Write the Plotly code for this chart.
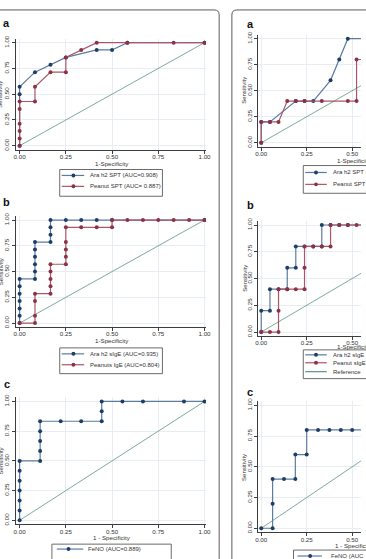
import plotly.graph_objects as go

W, H = 366, 559

# ---------------- data ----------------
TICK_VALS = [0, 0.25, 0.5, 0.75, 1.0]
TICK_TEXT = ["0.00", "0.25", "0.50", "0.75", "1.00"]
REF_X = [0, 1]
REF_Y = [0, 1]

# Left panel a
la_ara_x = [0, 0, 0, 0.083, 0.167, 0.25, 0.417, 0.5, 0.583, 1.0]
la_ara_y = [0, 0.5, 0.571, 0.714, 0.786, 0.857, 0.929, 0.929, 1.0, 1.0]
la_pea_x = [0, 0, 0, 0, 0, 0, 0.083, 0.083, 0.167, 0.25, 0.25, 0.333, 0.417, 0.583, 0.833, 1.0]
la_pea_y = [0, 0.071, 0.143, 0.214, 0.357, 0.429, 0.429, 0.571, 0.714, 0.714, 0.857, 0.929, 1.0, 1.0, 1.0, 1.0]
la_labels = ["Ara h2 SPT (AUC=0.908)", "Peanut SPT (AUC= 0.887)"]

# Left panel b
lb_ara_x = [0, 0, 0, 0, 0, 0, 0, 0.083, 0.083, 0.083, 0.083, 0.083, 0.083,
            0.167, 0.167, 0.167, 0.167, 0.25, 0.333, 0.417, 0.5, 1.0]
lb_ara_y = [0, 0.071, 0.143, 0.214, 0.286, 0.357, 0.429, 0.429, 0.5, 0.571, 0.643, 0.714, 0.786,
            0.786, 0.857, 0.929, 1.0, 1.0, 1.0, 1.0, 1.0, 1.0]
lb_pea_x = [0, 0.083, 0.083, 0.083, 0.083, 0.167, 0.167, 0.167, 0.167, 0.167,
            0.25, 0.25, 0.25, 0.25, 0.25, 0.333, 0.417, 0.5, 0.5,
            0.583, 0.667, 0.75, 0.833, 0.917, 1.0]
lb_pea_y = [0, 0, 0.071, 0.214, 0.286, 0.286, 0.357, 0.429, 0.5, 0.571,
            0.571, 0.643, 0.714, 0.786, 0.929, 0.929, 0.929, 0.929, 1.0,
            1.0, 1.0, 1.0, 1.0, 1.0, 1.0]
lb_labels = ["Ara h2 sIgE (AUC=0.935)", "Peanuts IgE (AUC=0.804)"]

# Left panel c
lc_feno_x = [0, 0, 0, 0, 0, 0, 0, 0.111, 0.111, 0.111, 0.111, 0.111,
             0.222, 0.333, 0.444, 0.444, 0.444, 0.556, 0.667, 0.889, 1.0]
lc_feno_y = [0, 0.083, 0.167, 0.25, 0.333, 0.417, 0.5, 0.5, 0.583, 0.667, 0.75, 0.833,
             0.833, 0.833, 0.833, 0.917, 1.0, 1.0, 1.0, 1.0, 1.0]
lc_labels = ["FeNO (AUC=0.889)"]

# Right panel a
ra_ara_x = [0, 0, 0.048, 0.19, 0.238, 0.286, 0.381, 0.429, 0.476, 1.0]
ra_ara_y = [0, 0.2, 0.2, 0.4, 0.4, 0.4, 0.6, 0.8, 1.0, 1.0]
ra_pea_x = [0, 0, 0.048, 0.095, 0.143, 0.19, 0.238, 0.333, 0.476, 0.524, 0.524, 0.571, 1.0]
ra_pea_y = [0, 0.2, 0.2, 0.2, 0.4, 0.4, 0.4, 0.4, 0.4, 0.4, 0.8, 0.8, 1.0]
ra_labels = ["Ara h2 SPT (AUC", "Peanut SPT (AUC"]

# Right panel b
rb_ara_x = [0, 0, 0.048, 0.048, 0.095, 0.143, 0.143, 0.19, 0.19, 0.238, 0.286, 0.333, 0.333,
            0.381, 0.429, 0.476, 1.0]
rb_ara_y = [0, 0.2, 0.2, 0.4, 0.4, 0.4, 0.6, 0.6, 0.8, 0.8, 0.8, 0.8, 1.0,
            1.0, 1.0, 1.0, 1.0]
rb_pea_x = [0, 0.048, 0.095, 0.095, 0.095, 0.143, 0.19, 0.238, 0.238, 0.238, 0.286, 0.333,
            0.381, 0.381, 0.429, 0.476, 0.524, 1.0]
rb_pea_y = [0, 0, 0, 0.2, 0.4, 0.4, 0.4, 0.4, 0.6, 0.8, 0.8, 0.8,
            0.8, 1.0, 1.0, 1.0, 1.0, 1.0]
rb_labels = ["Ara h2 sIgE (AUC", "Peanut sIgE (AUC", "Reference"]

# Right panel c
rc_feno_x = [0, 0.0625, 0.0625, 0.0625, 0.125, 0.1875, 0.1875, 0.25, 0.25,
             0.3125, 0.375, 0.4375, 0.5, 0.5625, 1.0]
rc_feno_y = [0, 0, 0.2, 0.4, 0.4, 0.4, 0.6, 0.6, 0.8, 0.8, 0.8, 0.8, 0.8, 0.8, 1.0]
rc_labels = ["FeNO (AUC"]

PANEL_LETTERS = ["a", "b", "c", "a", "b", "c"]
X_TITLES = ["1-Specificity", "1-Specificity", "1 - Specificity",
            "1-Specificity", "1-Specificity", "1 - Specificity"]
Y_TITLE = "Sensitivity"

# ---------------- style ----------------
BLUE_M = "#1d3e66"
BLUE_L = "#5a7ca0"
RED_M = "#8c3146"
RED_L = "#a85769"
REF_C = "#5a9483"
AXIS_C = "#3d3d3d"
GRID_C = "#e7edf2"
TXT_C = "#333333"
FRAME_C = "#5a5a5a"
FONT = "Liberation Sans, Arial, Helvetica, sans-serif"


def fx(p):
    return p / W


def fy(p):
    return 1 - p / H


# pixel geometry of each panel: data-0 x, px per unit x, axis x, right end,
# data-0 y, px per unit y, axis y (bottom), top
panels = [
    dict(x0=17, xu=189, xl=13, xr=207.5, y0=143, yu=104, yb=147, yt=35),
    dict(x0=17, xu=189, xl=13, xr=207.5, y0=322, yu=104, yb=326, yt=214),
    dict(x0=17, xu=189, xl=13, xr=207.5, y0=521, yu=120, yb=525, yt=397),
    dict(x0=264, xu=186, xl=261, xr=366, y0=140, yu=105, yb=144, yt=31),
    dict(x0=264, xu=186, xl=261, xr=366, y0=331, yu=108, yb=335, yt=219),
    dict(x0=264, xu=186, xl=261, xr=366, y0=529, yu=124, yb=533, yt=401),
]

series = [
    [(la_ara_x, la_ara_y, BLUE_L, BLUE_M), (la_pea_x, la_pea_y, RED_L, RED_M)],
    [(lb_ara_x, lb_ara_y, BLUE_L, BLUE_M), (lb_pea_x, lb_pea_y, RED_L, RED_M)],
    [(lc_feno_x, lc_feno_y, BLUE_L, BLUE_M)],
    [(ra_ara_x, ra_ara_y, BLUE_L, BLUE_M), (ra_pea_x, ra_pea_y, RED_L, RED_M)],
    [(rb_ara_x, rb_ara_y, BLUE_L, BLUE_M), (rb_pea_x, rb_pea_y, RED_L, RED_M)],
    [(rc_feno_x, rc_feno_y, BLUE_L, BLUE_M)],
]

fig = go.Figure()
layout = dict(
    width=W, height=H, autosize=False,
    margin=dict(l=0, r=0, t=0, b=0, pad=0),
    paper_bgcolor="white", plot_bgcolor="white",
    showlegend=False, font=dict(family=FONT, color=TXT_C, size=6.2),
)

annotations = []
shapes = []

for i, (g, sers) in enumerate(zip(panels, series), start=1):
    xs = "x" if i == 1 else f"x{i}"
    ys = "y" if i == 1 else f"y{i}"
    xa = "xaxis" if i == 1 else f"xaxis{i}"
    ya = "yaxis" if i == 1 else f"yaxis{i}"
    common = dict(
        tickvals=TICK_VALS, ticktext=TICK_TEXT, ticks="outside", ticklen=3,
        tickwidth=0.8, tickcolor=AXIS_C, showline=True, linecolor=AXIS_C,
        linewidth=0.9, showgrid=True, gridcolor=GRID_C, gridwidth=0.8,
        zeroline=False, tickfont=dict(size=6.2, color=TXT_C, family=FONT),
        fixedrange=True,
    )
    layout[xa] = dict(
        domain=[fx(g["xl"]), min(1.0, fx(g["xr"]))],
        range=[(g["xl"] - g["x0"]) / g["xu"], (g["xr"] - g["x0"]) / g["xu"]],
        anchor=ys, ticklabelstandoff=-2, **common)
    layout[ya] = dict(
        domain=[fy(g["yb"]), fy(g["yt"])],
        range=[(g["y0"] - g["yb"]) / g["yu"], (g["y0"] - g["yt"]) / g["yu"]],
        anchor=xs, tickangle=-90, **common)

    fig.add_trace(go.Scatter(x=REF_X, y=REF_Y, mode="lines", xaxis=xs, yaxis=ys,
                             line=dict(color=REF_C, width=0.8), hoverinfo="skip"))
    for sx, sy, lc, mc in sers:
        fig.add_trace(go.Scatter(x=sx, y=sy, mode="lines+markers", xaxis=xs, yaxis=ys,
                                 line=dict(color=lc, width=1.2),
                                 marker=dict(color=mc, size=4, line=dict(width=0)),
                                 hoverinfo="skip"))

    # panel letter
    lx = 4 if i <= 3 else 253
    ly = [19, 200, 383, 20, 203, 391][i - 1]
    annotations.append(dict(text="<b>%s</b>" % PANEL_LETTERS[i - 1], x=fx(lx), y=fy(ly),
                            xref="paper", yref="paper", showarrow=False,
                            xanchor="center", yanchor="middle",
                            font=dict(size=11, color="#111111", family=FONT)))
    # x title
    xt_x = g["x0"] + 0.5 * g["xu"]
    xt_y = [160.5, 339.5, 538.5, 157.5, 345.5, 546][i - 1]
    annotations.append(dict(text=X_TITLES[i - 1], x=fx(xt_x + (2 if i > 3 else 0)), y=fy(xt_y),
                            xref="paper", yref="paper", showarrow=False,
                            xanchor="center", yanchor="middle",
                            font=dict(size=6.2, color=TXT_C, family=FONT)))
    # y title
    yt_x = -2.5 if i <= 3 else 246.5
    yt_y = [91, 270, 461, 87.5, 277, 468][i - 1]
    annotations.append(dict(text=Y_TITLE, x=fx(yt_x), y=fy(yt_y), textangle=-90,
                            xref="paper", yref="paper", showarrow=False,
                            xanchor="center", yanchor="middle",
                            font=dict(size=6, color=TXT_C, family=FONT)))

# ---------------- legends (boxes with keys) ----------------
legends = [
    dict(box=(58, 167, 163, 194), line=(60, 83), mk=72, tx=87,
         items=[(173, BLUE_L, BLUE_M, la_labels[0]), (184, RED_L, RED_M, la_labels[1])]),
    dict(box=(58, 347, 163, 373), line=(60, 83), mk=72, tx=87,
         items=[(353, BLUE_L, BLUE_M, lb_labels[0]), (364, RED_L, RED_M, lb_labels[1])]),
    dict(box=(50, 545, 172, 580), line=(55, 82), mk=67, tx=85,
         items=[(550, BLUE_L, BLUE_M, lc_labels[0])]),
    dict(box=(307, 163, 430, 191), line=(309, 331), mk=320, tx=335,
         items=[(170, BLUE_L, BLUE_M, ra_labels[0]), (182, RED_L, RED_M, ra_labels[1])]),
    dict(box=(307, 349, 430, 378), line=(309, 331), mk=320, tx=335,
         items=[(354, BLUE_L, BLUE_M, rb_labels[0]), (362, RED_L, RED_M, rb_labels[1]),
                (371, REF_C, None, rb_labels[2])]),
    dict(box=(297, 551, 430, 590), line=(301, 326), mk=314, tx=333,
         items=[(557, BLUE_L, BLUE_M, rc_labels[0])]),
]

for lg in legends:
    l, t, r, b = lg["box"]
    shapes.append(dict(type="rect", xref="paper", yref="paper",
                       x0=fx(l), x1=fx(r), y0=fy(b), y1=fy(t),
                       line=dict(color=FRAME_C, width=0.9), fillcolor="white", layer="above"))
    for yy, lc, mc, txt in lg["items"]:
        shapes.append(dict(type="line", xref="paper", yref="paper",
                           x0=fx(lg["line"][0]), x1=fx(lg["line"][1]), y0=fy(yy), y1=fy(yy),
                           line=dict(color=lc, width=1.2), layer="above"))
        if mc is not None:
            cx = lg["mk"]
            shapes.append(dict(type="circle", xref="paper", yref="paper",
                               x0=fx(cx - 2), x1=fx(cx + 2), y0=fy(yy + 2), y1=fy(yy - 2),
                               fillcolor=mc, line=dict(width=0), layer="above"))
        annotations.append(dict(text=txt, x=fx(lg["tx"]), y=fy(yy), xref="paper", yref="paper",
                                showarrow=False, xanchor="left", yanchor="middle",
                                font=dict(size=6, color=TXT_C, family=FONT)))

# ---------------- outer frames ----------------
lf = "M %f,%f L %f,%f Q %f,%f %f,%f L %f,%f" % (
    fx(-10), fy(6), fx(216), fy(6), fx(221), fy(6), fx(221), fy(11), fx(221), fy(600))
rf = "M %f,%f L %f,%f Q %f,%f %f,%f L %f,%f" % (
    fx(400), fy(6), fx(239), fy(6), fx(234), fy(6), fx(234), fy(11), fx(234), fy(600))
for p in (lf, rf):
    shapes.append(dict(type="path", xref="paper", yref="paper", path=p,
                       line=dict(color=FRAME_C, width=1), layer="above"))

layout["annotations"] = annotations
layout["shapes"] = shapes
fig.update_layout(**layout)

fig.write_html("out.html")
